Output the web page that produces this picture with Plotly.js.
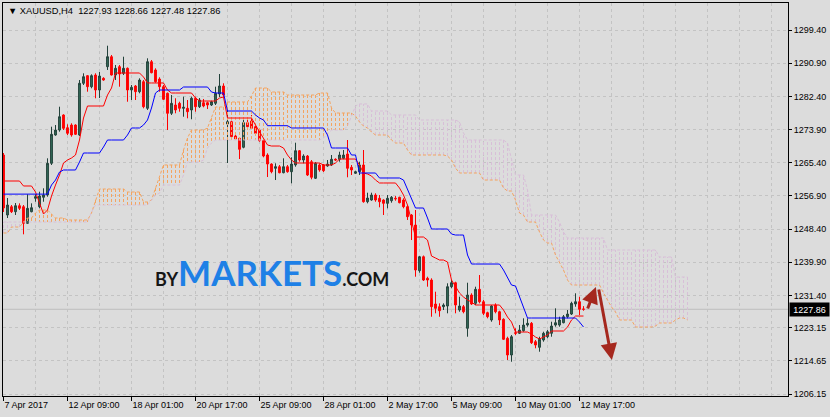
<!DOCTYPE html>
<html><head><meta charset="utf-8">
<script src="https://cdn.plot.ly/plotly-3.0.1.min.js"></script>
<style>html,body{margin:0;padding:0;background:#dcdcdc;overflow:hidden}#chart{width:830px;height:417px}</style>
</head><body><div id="chart"></div>
<script>
const symbol = 'XAUUSD,H4';

const openP = [
1267.38,1252.01,1254.13,1252.85,1254.39,1254.13,1249.88,1252.85,1256.29,1254.13,
1256.54,1257.13,1265.25,1272.50,1273.78,1277.63,1274.37,1275.06,1275.06,1272.50,
1285.75,1287.70,1284.88,1287.87,1284.03,1287.03,1290.00,1292.56,1287.87,1290.00,
1288.31,1289.59,1284.03,1285.06,1283.60,1286.16,1279.34,1291.28,1289.16,1286.85,
1284.88,1283.19,1278.06,1280.19,1280.62,1279.34,1279.34,1278.91,1281.91,1279.75,
1280.78,1280.78,1280.19,1280.62,1283.01,1285.06,1275.32,1275.91,1272.25,1271.66,
1269.35,1275.65,1276.09,1274.63,1273.78,1271.04,1267.38,1265.07,1263.97,1264.38,
1262.84,1264.38,1263.10,1264.82,1268.48,1266.10,1267.12,1265.66,1261.41,1264.82,
1264.82,1264.56,1264.82,1266.28,1266.28,1266.53,1267.64,1264.23,1262.69,1263.10,
1264.82,1255.41,1255.85,1257.13,1256.29,1255.85,1255.00,1255.67,1256.29,1256.54,
1255.85,1254.13,1252.01,1249.44,1237.74,1241.32,1235.79,1235.35,1229.21,1228.51,
1228.51,1228.69,1233.64,1234.66,1227.67,1228.51,1222.98,1231.51,1229.38,1232.97,
1229.79,1226.98,1225.11,1228.95,1227.23,1225.29,1220.42,1216.14,1221.85,1221.70,
1222.36,1223.82,1224.26,1219.55,1218.11,1219.98,1220.83,1221.70,1223.82,1223.82,
1224.41,1225.95,1226.64,1229.21,1229.79,1227.93];
const highP = [
1267.89,1256.36,1254.57,1255.08,1255.00,1254.57,1257.31,1255.00,1257.31,1257.98,
1258.85,1266.53,1274.63,1275.06,1279.75,1277.81,1275.24,1275.50,1275.24,1286.59,
1288.31,1287.87,1288.05,1288.31,1288.64,1287.29,1295.38,1293.00,1290.44,1290.44,
1292.56,1289.80,1285.31,1285.31,1287.03,1286.59,1292.15,1291.72,1289.59,1287.29,
1285.31,1283.39,1282.75,1281.91,1281.03,1282.32,1281.47,1282.32,1282.32,1281.98,
1281.73,1281.03,1281.29,1284.88,1288.13,1285.75,1278.91,1276.17,1272.50,1271.91,
1276.35,1276.35,1277.63,1275.06,1274.22,1271.48,1267.81,1265.25,1265.25,1264.82,
1266.53,1264.82,1266.79,1270.53,1268.66,1267.56,1267.38,1266.10,1265.59,1265.25,
1265.07,1266.10,1267.38,1266.53,1268.22,1268.66,1271.22,1264.82,1263.36,1265.66,
1268.66,1257.72,1257.72,1257.57,1257.13,1256.03,1257.13,1256.87,1256.87,1256.70,
1256.29,1254.57,1252.26,1253.29,1241.50,1241.63,1236.20,1235.79,1232.36,1229.38,
1229.38,1234.51,1235.35,1234.92,1231.08,1228.95,1234.66,1231.95,1233.64,1236.63,
1230.23,1227.23,1228.95,1229.38,1227.49,1225.54,1220.83,1221.26,1222.98,1223.82,
1225.54,1225.54,1224.59,1219.98,1220.83,1222.11,1222.54,1224.67,1228.10,1225.95,
1226.39,1227.67,1229.79,1231.95,1231.08,1228.66];
const lowP = [
1252.78,1251.24,1252.52,1252.01,1253.29,1247.06,1249.78,1252.70,1255.41,1253.72,
1255.41,1256.70,1264.82,1272.32,1273.35,1273.78,1272.50,1272.07,1272.50,1272.25,
1285.31,1283.60,1284.47,1281.91,1281.98,1286.41,1289.16,1287.75,1286.59,1284.88,
1287.87,1281.03,1281.47,1281.47,1283.19,1279.34,1278.91,1288.31,1285.90,1283.60,
1281.47,1273.78,1277.63,1278.06,1278.47,1277.19,1276.78,1276.53,1278.47,1279.42,
1279.60,1279.16,1279.93,1280.19,1282.24,1282.24,1265.33,1271.22,1271.22,1266.35,
1269.10,1273.78,1274.04,1272.68,1270.79,1266.79,1261.74,1262.69,1260.97,1262.69,
1262.69,1262.84,1260.13,1264.38,1265.66,1265.25,1262.00,1261.15,1261.23,1263.10,
1263.02,1264.38,1264.56,1265.84,1265.66,1266.28,1261.67,1262.25,1262.51,1262.25,
1255.16,1255.00,1255.67,1255.41,1253.98,1252.01,1253.72,1255.16,1255.67,1255.00,
1253.72,1250.73,1245.60,1236.20,1237.22,1235.10,1233.64,1225.95,1226.82,1225.95,
1227.67,1226.82,1233.23,1226.82,1227.23,1226.82,1220.83,1228.95,1228.95,1229.38,
1226.39,1225.54,1224.67,1226.82,1223.82,1219.98,1214.86,1214.42,1221.26,1221.52,
1222.11,1223.39,1218.96,1217.86,1216.98,1219.55,1220.42,1220.83,1223.39,1223.39,
1224.26,1225.54,1226.39,1228.51,1226.39,1227.48];
const closeP = [
1253.80,1254.57,1252.85,1254.39,1253.72,1249.88,1253.72,1253.88,1256.70,1256.87,
1257.13,1265.25,1272.68,1273.78,1277.19,1274.22,1272.94,1272.50,1272.68,1285.75,
1287.44,1284.88,1287.70,1284.03,1287.62,1286.59,1292.56,1287.87,1289.59,1288.13,
1289.59,1284.03,1284.72,1283.60,1286.59,1279.75,1291.28,1288.46,1286.16,1284.88,
1281.65,1278.06,1280.62,1278.91,1279.34,1279.60,1278.47,1281.91,1279.75,1281.47,
1279.93,1280.19,1281.03,1283.19,1285.06,1282.75,1275.91,1272.07,1271.48,1268.84,
1275.65,1274.63,1274.22,1272.94,1271.04,1267.12,1265.07,1263.10,1264.38,1262.84,
1264.38,1263.10,1265.07,1268.48,1266.10,1267.12,1262.25,1261.67,1265.25,1263.54,
1263.36,1265.07,1266.28,1266.10,1267.38,1267.38,1263.97,1263.54,1263.10,1264.82,
1255.41,1256.36,1257.13,1255.85,1255.41,1255.00,1256.29,1256.54,1256.16,1255.16,
1254.13,1251.57,1249.44,1237.92,1241.32,1235.35,1235.35,1228.51,1228.10,1227.49,
1228.95,1233.64,1234.66,1228.95,1228.69,1227.23,1231.51,1229.21,1232.97,1229.79,
1226.82,1225.95,1228.69,1227.23,1225.11,1220.16,1216.14,1220.83,1221.70,1222.54,
1223.82,1224.26,1219.29,1218.70,1220.16,1221.70,1222.11,1223.57,1224.41,1225.11,
1225.95,1226.64,1229.38,1229.79,1227.85,1227.86];

const tenkan = [
1260.72,1260.72,1260.72,1260.72,1260.72,1259.44,1259.44,1259.44,1257.90,1255.08,
1252.26,1253.29,1256.87,1259.69,1262.25,1265.33,1266.10,1266.61,1267.38,1271.22,
1276.86,1279.93,1279.93,1279.93,1279.93,1279.93,1282.75,1284.54,1288.39,1288.39,
1288.39,1288.39,1288.39,1288.39,1288.39,1287.36,1285.83,1285.83,1285.83,1285.83,
1285.83,1284.03,1283.26,1283.26,1283.26,1283.26,1283.26,1283.26,1281.98,1281.21,
1281.21,1281.21,1281.21,1281.21,1281.98,1282.24,1276.86,1276.86,1276.86,1276.86,
1276.86,1276.86,1276.86,1275.06,1273.27,1271.48,1269.94,1269.68,1269.68,1269.68,
1269.17,1267.38,1266.10,1265.33,1265.33,1265.33,1265.33,1265.33,1265.33,1265.33,
1264.82,1264.82,1264.82,1265.33,1266.35,1266.35,1266.35,1266.35,1266.35,1264.82,
1262.77,1262.51,1262.00,1260.97,1260.21,1260.21,1260.21,1260.21,1260.21,1258.92,
1257.13,1254.57,1250.73,1246.37,1246.37,1246.37,1245.60,1241.50,1240.99,1240.48,
1240.48,1239.97,1235.35,1233.56,1232.02,1231.00,1230.23,1229.72,1228.95,1228.95,
1228.95,1228.95,1228.95,1228.95,1228.95,1227.67,1225.87,1224.59,1222.03,1222.03,
1222.03,1222.03,1221.52,1220.75,1220.24,1220.75,1221.26,1222.29,1222.29,1222.29,
1222.29,1223.31,1225.11,1226.13,1226.13,1226.13];
const kijun = [
1257.36,1257.36,1257.36,1257.36,1257.36,1257.36,1257.36,1257.36,1257.36,1257.36,
1257.36,1257.36,1259.69,1260.97,1263.02,1263.54,1263.54,1263.54,1263.54,1265.59,
1267.89,1267.89,1267.89,1267.89,1267.89,1269.43,1271.22,1271.22,1271.22,1271.22,
1271.22,1272.50,1274.30,1274.30,1274.30,1275.06,1276.35,1279.42,1283.26,1284.03,
1284.03,1284.03,1284.03,1284.03,1284.03,1284.80,1284.80,1284.80,1284.80,1284.80,
1284.80,1284.80,1283.52,1283.26,1283.26,1283.26,1278.65,1278.65,1278.65,1278.65,
1278.65,1278.65,1278.65,1277.63,1276.86,1276.35,1274.89,1274.89,1274.89,1274.89,
1274.89,1274.89,1274.30,1274.30,1274.30,1274.30,1274.30,1274.30,1274.30,1274.30,
1274.30,1272.50,1269.17,1269.17,1269.17,1269.17,1269.17,1267.38,1267.38,1262.77,
1262.77,1262.77,1262.77,1262.77,1261.49,1261.49,1261.49,1261.49,1261.49,1261.49,
1260.97,1258.41,1255.85,1253.80,1253.80,1253.80,1251.24,1248.42,1248.42,1248.42,
1248.42,1248.42,1247.14,1246.88,1246.88,1246.88,1241.76,1239.45,1239.45,1239.45,
1239.45,1239.45,1239.45,1239.45,1239.45,1237.92,1236.12,1234.07,1233.82,1231.00,
1228.18,1225.62,1225.62,1225.62,1225.62,1225.62,1225.62,1225.62,1225.62,1225.62,
1225.62,1225.62,1225.62,1225.62,1224.59,1223.31];
const senkouA = [
1247.40,1247.40,1248.93,1248.93,1248.93,1250.21,1251.24,1251.24,1252.52,1253.29,
1253.29,1253.29,1252.26,1251.24,1251.24,1251.24,1250.73,1250.73,1250.73,1250.73,
1250.73,1250.73,1252.52,1255.85,1258.67,1258.67,1258.67,1258.67,1258.67,1258.67,
1258.67,1257.90,1257.90,1257.90,1257.90,1255.34,1255.34,1255.85,1258.92,1261.49,
1264.82,1264.82,1264.82,1264.82,1264.82,1268.66,1271.73,1273.78,1273.78,1273.78,
1273.78,1274.30,1276.86,1279.68,1279.68,1279.68,1280.96,1280.96,1280.96,1280.96,
1280.96,1280.96,1282.49,1284.54,1284.54,1284.54,1284.54,1283.52,1283.52,1283.52,
1283.52,1282.75,1282.75,1282.75,1282.75,1282.75,1282.75,1282.75,1282.75,1283.26,
1283.26,1283.26,1279.42,1278.14,1278.14,1278.14,1278.14,1278.14,1277.37,1275.83,
1274.81,1274.30,1273.27,1272.50,1272.50,1272.50,1272.50,1271.22,1270.45,1270.45,
1270.45,1268.66,1267.38,1267.38,1267.38,1267.38,1267.38,1267.38,1267.38,1267.38,
1267.38,1267.12,1266.10,1264.05,1262.77,1262.77,1262.77,1262.77,1262.77,1262.77,
1260.97,1260.97,1260.97,1260.97,1260.97,1258.92,1258.16,1258.16,1255.85,1252.52,
1252.01,1250.21,1250.21,1250.21,1247.65,1245.60,1244.83,1244.83,1241.76,1239.97,
1237.92,1235.35,1234.07,1234.07,1234.07,1234.07,1234.07,1234.07,1234.07,1234.07,
1232.02,1230.23,1228.44,1227.16,1225.11,1225.11,1225.11,1225.11,1223.31,1223.31,
1223.31,1223.31,1223.31,1223.57,1224.34,1224.34,1224.34,1224.34,1225.11,1225.62,
1225.62,1225.11];
const senkouB = [
1250.21,1250.21,1250.21,1250.21,1250.21,1250.21,1250.21,1250.21,1250.21,1250.21,
1250.21,1250.21,1250.21,1250.21,1250.21,1250.21,1250.21,1250.21,1250.21,1250.21,
1250.21,1250.21,1252.78,1254.57,1254.57,1254.57,1254.57,1254.57,1254.57,1254.57,
1254.57,1254.57,1254.57,1254.57,1254.57,1254.57,1254.57,1255.85,1257.13,1257.64,
1259.69,1259.69,1259.69,1259.69,1259.69,1262.25,1265.59,1265.59,1265.59,1265.59,
1266.10,1269.17,1270.45,1271.22,1271.22,1271.22,1271.22,1271.22,1271.22,1271.22,
1271.22,1271.22,1271.22,1271.22,1271.22,1271.22,1271.22,1271.22,1271.22,1271.22,
1271.22,1271.22,1271.22,1271.22,1271.22,1271.22,1271.22,1271.22,1271.22,1271.22,
1271.73,1272.76,1273.78,1273.78,1273.78,1273.78,1274.81,1277.63,1279.93,1280.45,
1280.45,1280.45,1278.65,1278.65,1278.65,1278.65,1278.65,1277.63,1277.63,1277.63,
1277.63,1277.63,1277.63,1277.63,1276.35,1276.35,1276.35,1276.35,1276.35,1276.35,
1276.35,1276.35,1276.35,1276.35,1275.83,1273.02,1271.22,1271.22,1271.22,1271.22,
1271.22,1271.22,1271.22,1271.22,1271.22,1271.22,1270.45,1266.10,1262.25,1262.25,
1262.25,1258.41,1252.01,1252.01,1252.01,1252.01,1252.01,1252.01,1252.01,1250.21,
1247.65,1246.11,1246.11,1246.11,1246.11,1246.11,1246.11,1246.11,1246.11,1246.11,
1246.11,1243.04,1243.04,1243.04,1243.04,1243.04,1243.04,1243.04,1243.04,1243.04,
1243.04,1243.04,1243.04,1243.04,1241.25,1241.25,1241.25,1241.25,1236.12,1236.12,
1236.12,1236.12];

const xTickBars = [0,16,32,48,64,80,96,112,128,144];
const xTickLabels = ['7 Apr 2017','12 Apr 09:00','18 Apr 01:00','20 Apr 17:00','25 Apr 09:00',
  '28 Apr 01:00','2 May 17:00','5 May 09:00','10 May 01:00','12 May 17:00'];
const yTickValues = [1299.40,1290.90,1282.40,1273.90,1265.40,1256.90,1248.40,1239.90,1231.40,1223.15,1214.65,1206.15];
// forecast arrows: [tailBar, tailPrice, headBar, headPrice]
const forecastArrows = [[145.9,1227.67,148.1,1233.57],[148.75,1233.31,152.1,1214.86]];

const last = openP.length - 1;
const lastPrice = closeP[last];
const bars = openP.map((_, i) => i);
const cloudBars = senkouA.map((_, i) => i);

const hatchUp = {x: [], y: []}, hatchDown = {x: [], y: []};
cloudBars.forEach(i => {
  const a = senkouA[i], b = senkouB[i];
  const t = a >= b ? hatchUp : hatchDown;
  t.x.push(i, i, null); t.y.push(a, b, null);
});

const ORANGE = '#f4a460', THISTLE = '#d8bfd8';
const traces = [
  {type:'scatter', mode:'lines', x: hatchUp.x, y: hatchUp.y, line:{color:ORANGE, width:1, dash:'3px,2px'}, hoverinfo:'skip', connectgaps:false},
  {type:'scatter', mode:'lines', x: hatchDown.x, y: hatchDown.y, line:{color:THISTLE, width:1, dash:'3px,2px'}, hoverinfo:'skip', connectgaps:false},
  {type:'candlestick', x: bars, open: openP, high: highP, low: lowP, close: closeP,
   increasing:{line:{color:'#22413a', width:1}, fillcolor:'#336b58'},
   decreasing:{line:{color:'#ff0000', width:1}, fillcolor:'#ff0000'},
   whiskerwidth:0, hoverinfo:'skip'},
  {type:'scatter', mode:'lines', x: cloudBars, y: senkouA, line:{color:ORANGE, width:1, dash:'3px,2px'}, hoverinfo:'skip'},
  {type:'scatter', mode:'lines', x: cloudBars, y: senkouB, line:{color:THISTLE, width:1, dash:'3px,2px'}, hoverinfo:'skip'},
  {type:'scatter', mode:'lines', x: bars, y: tenkan, line:{color:'#ff0000', width:1}, hoverinfo:'skip'},
  {type:'scatter', mode:'lines', x: bars, y: kijun, line:{color:'#0000ff', width:1}, hoverinfo:'skip'}
];

const GRID = '#c3c3c3';
const titleText = '\u25BC\u00A0' + symbol + '\u00A0\u00A0' +
  [openP[last], highP[last], lowP[last], closeP[last]].map(v => v.toFixed(2)).join('\u00A0');

const annotations = [
  {xref:'paper', yref:'paper', x:0.004, y:0.98, xanchor:'left', yanchor:'middle', showarrow:false,
   text:titleText, font:{family:'Liberation Sans, Arial, sans-serif', size:9.3, color:'#000'}},
  {xref:'paper', yref:'paper', x:0.3433, y:0.257, xanchor:'center', yanchor:'bottom', showarrow:false,
   text:'<b><span style="font-size:18px;color:#161616">BY</span><span style="font-size:35px;color:#1e80e6">MARKETS</span><span style="font-size:18px;color:#161616">.COM</span></b>',
   font:{family:'Lato, Open Sans, sans-serif', size:18, color:'#161616'}},
  {xref:'paper', yref:'y', x:1, y:lastPrice, xanchor:'left', yanchor:'middle', xshift:1, showarrow:false,
   text:lastPrice.toFixed(2), bgcolor:'#000', borderpad:1, width:37, height:11,
   font:{family:'Liberation Sans, Arial, sans-serif', size:9, color:'#fff'}}
];
forecastArrows.forEach(a => annotations.push({
  xref:'x', yref:'y', axref:'x', ayref:'y', x:a[2], y:a[3], ax:a[0], ay:a[1],
  showarrow:true, arrowhead:2, arrowsize:1.1, arrowwidth:3, arrowcolor:'#a5281e', text:''
}));

const layout = {
  width:830, height:417,
  margin:{l:3, r:42, t:3, b:21, pad:0},
  paper_bgcolor:'#dcdcdc', plot_bgcolor:'#dcdcdc',
  showlegend:false, boxgap:0.35,
  font:{family:'Liberation Sans, Arial, sans-serif', size:9, color:'#000'},
  xaxis:{
    range:[-0.125, 196.125], autorange:false, rangeslider:{visible:false},
    tickmode:'array', tickvals:xTickBars, ticktext:xTickLabels,
    ticks:'outside', ticklen:4, tickcolor:'#000', tickwidth:1,
    ticklabelposition:'outside right',
    showgrid:true, gridcolor:GRID, griddash:'3px,3px', gridwidth:1,
    minor:{tickmode:'linear', tick0:0, dtick:8, showgrid:true, gridcolor:GRID, griddash:'3px,3px', gridwidth:1, ticks:''},
    showline:true, linecolor:'#000', linewidth:1, mirror:true,
    zeroline:false, fixedrange:true
  },
  yaxis:{
    side:'right', range:[1205.64, 1306.32], autorange:false,
    tickmode:'array', tickvals:yTickValues, ticktext:yTickValues.map(v => v.toFixed(2)),
    ticks:'outside', ticklen:3, tickcolor:'#000', tickwidth:1,
    showgrid:true, gridcolor:GRID, griddash:'3px,3px', gridwidth:1,
    showline:true, linecolor:'#000', linewidth:1, mirror:true,
    zeroline:false, fixedrange:true
  },
  shapes:[{type:'line', xref:'paper', x0:0, x1:1, yref:'y', y0:lastPrice, y1:lastPrice,
    line:{color:'#bdbdbd', width:1}, layer:'between'}],
  annotations: annotations
};

Plotly.newPlot('chart', traces, layout, {staticPlot:true, displayModeBar:false});
</script>
</body></html>
